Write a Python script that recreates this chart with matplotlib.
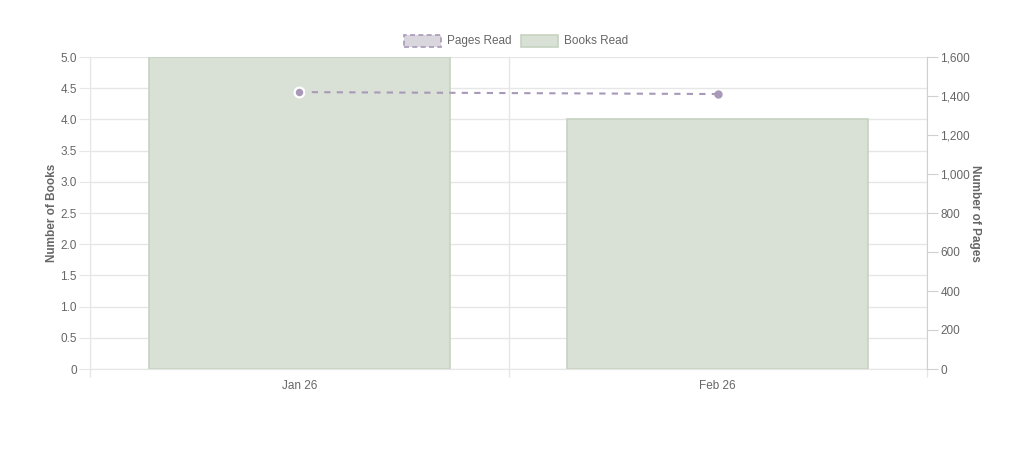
import matplotlib
matplotlib.use("Agg")
import matplotlib.pyplot as plt
from matplotlib.patches import Rectangle
from matplotlib.ticker import FuncFormatter, MultipleLocator
import numpy as np

categories = ["Jan 26", "Feb 26"]
books_read = [5, 4]
pages_read = [1420, 1410]

plt.rcParams['font.family'] = ['Liberation Sans', 'DejaVu Sans']

W, H = 1024, 453
fig = plt.figure(figsize=(W / 100, H / 100), dpi=100)
fig.patch.set_facecolor("white")

left, right, top, bottom = 90, 927, 57, 369
ax = fig.add_axes([left / W, (H - bottom) / H, (right - left) / W, (bottom - top) / H])
ax2 = ax.twinx()

text_c = "#666666"
grid_c = "#e6e6e6"
bar_fc = "#d9e1d6"
bar_ec = "#c6d3c1"
line_c = "#a899b8"

x = np.arange(len(categories))
ax.bar(x, books_read, width=0.72, color=bar_fc, edgecolor=bar_ec, linewidth=1.2, zorder=2)
ax.set_xlim(-0.5, len(categories) - 0.5)
ax.set_ylim(0, 5)
ax.yaxis.set_major_locator(MultipleLocator(0.5))
ax.yaxis.set_major_formatter(FuncFormatter(lambda v, p: "0" if v == 0 else f"{v:.1f}"))

# category boundary grid lines
ax.set_xticks(x)
ax.set_xticklabels(categories)
ax.set_xticks(np.arange(-0.5, len(categories)), minor=True)
ax.tick_params(axis="x", which="major", length=0, pad=8, labelsize=8.5, labelcolor=text_c)
ax.tick_params(axis="x", which="minor", length=6, color=grid_c, width=1)
ax.grid(axis="x", which="minor", color=grid_c, linewidth=1, zorder=0)
ax.grid(axis="y", which="major", color=grid_c, linewidth=1, zorder=0)
ax.tick_params(axis="y", length=8, color=grid_c, labelsize=8.5, labelcolor=text_c, pad=1.5)
ax.set_axisbelow(True)
for s in ["top", "right"]:
    ax.spines[s].set_visible(False)
ax.spines["left"].set_color(grid_c)
ax.spines["bottom"].set_color(grid_c)
ax.set_ylabel("Number of Books", fontsize=8.5, fontweight="bold", color=text_c, labelpad=2)

ax2.plot(x, pages_read, color=line_c, linestyle=(0, (3, 3)), linewidth=1.5, zorder=3)
ax2.plot(x[:1], pages_read[:1], "o", markersize=7, markerfacecolor=line_c,
         markeredgecolor="white", markeredgewidth=1.6, zorder=4)
ax2.plot(x[1:], pages_read[1:], "o", markersize=5, markerfacecolor=line_c,
         markeredgecolor=line_c, markeredgewidth=1, zorder=4)
ax2.set_ylim(0, 1600)
ax2.yaxis.set_major_locator(MultipleLocator(200))
ax2.yaxis.set_major_formatter(FuncFormatter(lambda v, p: f"{int(v):,}"))
ax2.tick_params(axis="y", length=8, color="#d0d0d0", labelsize=8.5, labelcolor=text_c, pad=1.5)
for s in ["top", "left", "bottom"]:
    ax2.spines[s].set_visible(False)
ax2.spines["right"].set_color("#d0d0d0")
ax2.set_ylabel("Number of Pages", fontsize=8.5, fontweight="bold", color=text_c,
               rotation=-90, labelpad=8)

# Legend (Chart.js style) drawn manually in figure pixels
def fx(px):
    return px / W

def fy(py):
    return (H - py) / H

ly = 41
box_h = 12
fig.patches.append(Rectangle((fx(404), fy(ly + box_h / 2)), fx(441) - fx(404), box_h / H,
                             transform=fig.transFigure, facecolor="#dad6de", edgecolor="#a899b8",
                             linestyle=(0, (3, 2)), linewidth=1.2))
fig.text(fx(447), fy(ly), "Pages Read", fontsize=8.5, color=text_c, va="center", ha="left")
fig.patches.append(Rectangle((fx(521), fy(ly + box_h / 2)), fx(558) - fx(521), box_h / H,
                             transform=fig.transFigure, facecolor=bar_fc, edgecolor=bar_ec,
                             linewidth=1.2))
fig.text(fx(564), fy(ly), "Books Read", fontsize=8.5, color=text_c, va="center", ha="left")

fig.savefig("out.png", dpi=100, facecolor="white")
